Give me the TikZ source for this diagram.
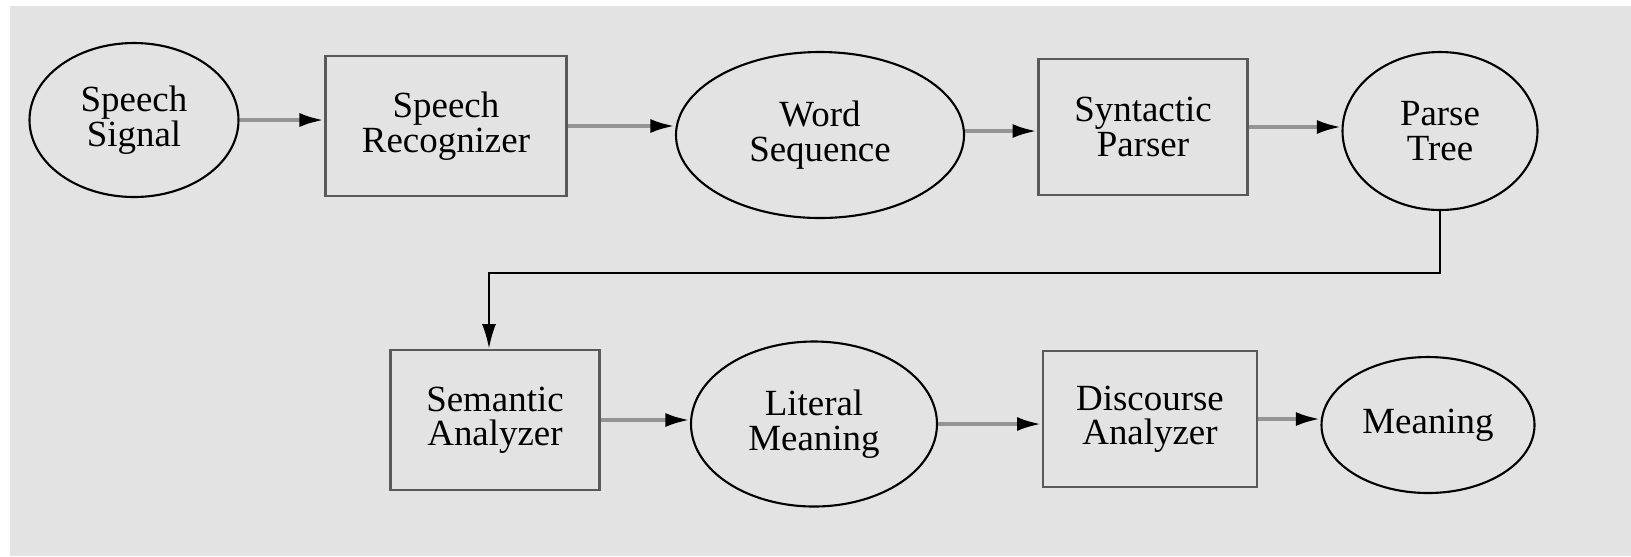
\documentclass[tikz,border=0pt]{standalone}
\usepackage{fontspec}
\setmainfont{Liberation Serif}
\usetikzlibrary{positioning, shapes.geometric, arrows.meta}
\definecolor{bggray}{HTML}{E3E3E3}
\tikzset{
    block/.style={
        draw=black!65, line width=0.8pt,
        inner sep=0pt,
        align=center,
        font=\fontsize{10.5}{9.8}\selectfont
    },
    data/.style={
        draw, ellipse, line width=0.6pt,
        inner sep=0pt,
        align=center,
        font=\fontsize{10.5}{9.8}\selectfont
    },
    line/.style={draw=black!42, line width=1.1pt, -{Latex[length=7pt, width=4pt, color=black]}},
    back/.style={draw=black, line width=0.6pt, -{Latex[length=7pt, width=4pt]}}
}

\begin{document}
\begin{tikzpicture}

    \useasboundingbox (0,0) rectangle (16.31,-5.56);
    \fill[bggray] (0.10,-0.06) rectangle (16.31,-5.56);

    % first row
    \node[data, minimum width=2.09cm, minimum height=1.54cm] (signal) at (1.34,-1.20) {Speech\\Signal};
    \node[block, minimum width=2.41cm, minimum height=1.40cm] (recog) at (4.46,-1.26) {Speech\\Recognizer};
    \node[data, minimum width=2.88cm, minimum height=1.66cm] (words) at (8.20,-1.35) {Word\\Sequence};
    \node[block, minimum width=2.09cm, minimum height=1.36cm] (parser) at (11.43,-1.27) {Syntactic\\Parser};
    \node[data, minimum width=1.95cm, minimum height=1.58cm] (tree) at (14.40,-1.31) {Parse\\Tree};

    % second row
    \node[block, minimum width=2.09cm, minimum height=1.40cm] (semantic) at (4.95,-4.20) {Semantic\\Analyzer};
    \node[data, minimum width=2.46cm, minimum height=1.65cm] (literal) at (8.14,-4.24) {Literal\\Meaning};
    \node[block, minimum width=2.14cm, minimum height=1.36cm] (discourse) at (11.50,-4.19) {Discourse\\Analyzer};
    \node[data, minimum width=2.13cm, minimum height=1.36cm] (meaning) at (14.28,-4.25) {Meaning};

    \coordinate (turn) at (14.40,-2.73);

    % Lines
    \draw[line] (signal.east) -- (signal.east -| recog.west);
    \draw[line] (recog.east) -- (recog.east -| words.west);
    \draw[line] ([yshift=0.04cm]words.east) -- ([yshift=0.04cm]words.east -| parser.west);
    \draw[line] (parser.east) -- (parser.east -| tree.west);
    \draw[back] (tree.south) |- (turn) -| ([xshift=-0.06cm]semantic.north);
    \draw[line] (semantic.east) -- (semantic.east -| literal.west);
    \draw[line] (literal.east) -- (literal.east -| discourse.west);
    \draw[line] (discourse.east) -- (discourse.east -| meaning.west);

\end{tikzpicture}
\end{document}
